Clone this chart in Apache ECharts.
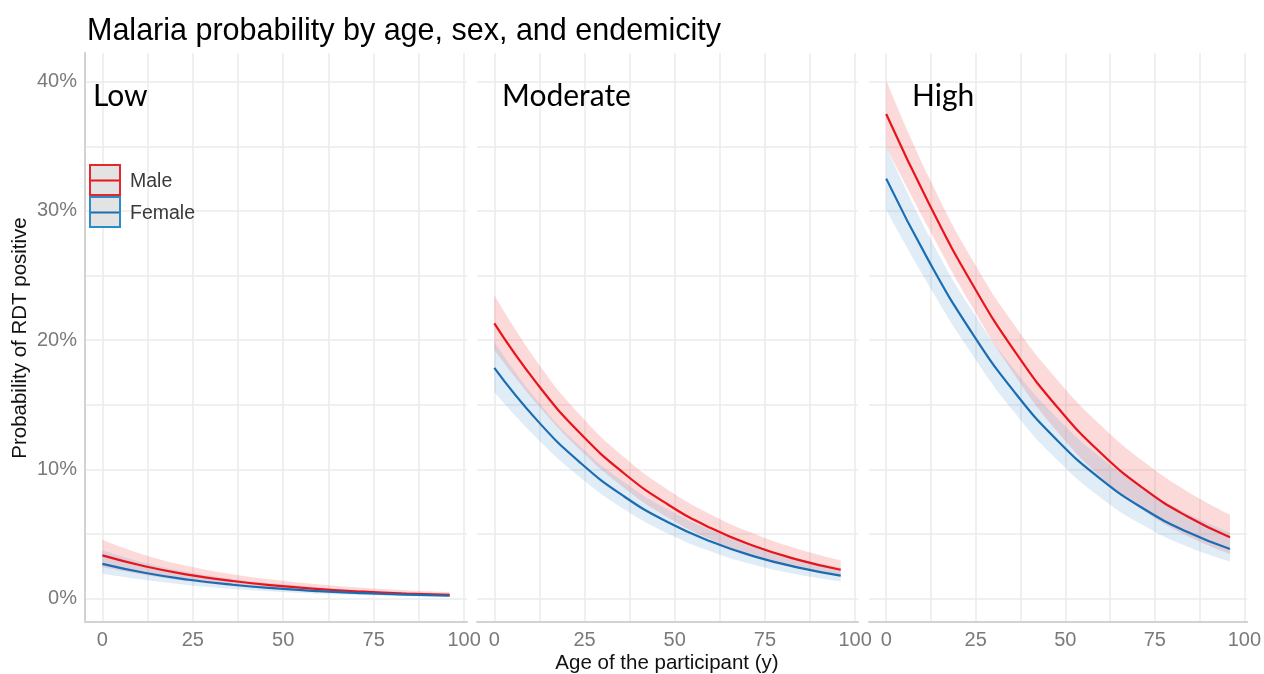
<!DOCTYPE html>
<html>
<head>
<meta charset="utf-8">
<script src="https://cdn.jsdelivr.net/npm/echarts@6/dist/echarts.min.js"></script>
<style>
html,body{margin:0;padding:0;background:#fff;}
#chart{width:1264px;height:674px;}
</style>
</head>
<body>
<div id="chart"></div>
<script>
// ---- data ----
const titleText = 'Malaria probability by age, sex, and endemicity';
const panels = ['Low', 'Moderate', 'High'];
const ages = [0, 12, 24, 36, 48, 60, 72, 84, 96];
const xTickLabels = [0, 25, 50, 75, 100];
const yTickLabels = [0, 10, 20, 30, 40];

const lowMale      = [3.35, 2.49, 1.85, 1.37, 1.01, 0.745, 0.550, 0.405, 0.299];
const lowMaleLo    = [2.46, 1.84, 1.36, 0.985, 0.706, 0.501, 0.353, 0.247, 0.173];
const lowMaleHi    = [4.56, 3.36, 2.51, 1.89, 1.44, 1.106, 0.855, 0.664, 0.517];
const lowFemale    = [2.70, 1.99, 1.47, 1.08, 0.794, 0.583, 0.428, 0.314, 0.230];
const lowFemaleLo  = [1.93, 1.44, 1.05, 0.762, 0.545, 0.387, 0.272, 0.191, 0.133];
const lowFemaleHi  = [3.76, 2.76, 2.04, 1.53, 1.154, 0.878, 0.672, 0.516, 0.398];

const modMale      = [21.30, 16.58, 12.74, 9.69, 7.31, 5.47, 4.08, 3.03, 2.24];
const modMaleLo    = [19.25, 15.02, 11.46, 8.57, 6.30, 4.58, 3.31, 2.37, 1.70];
const modMaleHi    = [23.50, 18.28, 14.15, 10.94, 8.45, 6.52, 5.02, 3.86, 2.96];
const modFemale    = [17.86, 13.76, 10.48, 7.91, 5.93, 4.42, 3.28, 2.43, 1.79];
const modFemaleLo  = [15.99, 12.36, 9.35, 6.93, 5.07, 3.66, 2.63, 1.88, 1.34];
const modFemaleHi  = [19.89, 15.29, 11.73, 9.01, 6.92, 5.32, 4.09, 3.14, 2.41];

const highMale     = [37.50, 30.54, 24.37, 19.10, 14.75, 11.25, 8.50, 6.38, 4.75];
const highMaleLo   = [34.95, 28.58, 22.58, 17.25, 12.86, 9.41, 6.80, 4.87, 3.46];
const highMaleHi   = [40.11, 32.57, 26.25, 21.10, 16.87, 13.41, 10.59, 8.32, 6.50];
const highFemale   = [32.50, 26.08, 20.55, 15.93, 12.19, 9.24, 6.94, 5.18, 3.85];
const highFemaleLo = [30.09, 24.20, 18.90, 14.35, 10.67, 7.80, 5.65, 4.05, 2.89];
const highFemaleHi = [35.00, 28.05, 22.29, 17.65, 13.91, 10.91, 8.51, 6.61, 5.12];

const panelData = [
  {male: lowMale, maleLo: lowMaleLo, maleHi: lowMaleHi, female: lowFemale, femaleLo: lowFemaleLo, femaleHi: lowFemaleHi},
  {male: modMale, maleLo: modMaleLo, maleHi: modMaleHi, female: modFemale, femaleLo: modFemaleLo, femaleHi: modFemaleHi},
  {male: highMale, maleLo: highMaleLo, maleHi: highMaleHi, female: highFemale, femaleLo: highFemaleLo, femaleHi: highFemaleHi}
];

// ---- styling ----
const RED = '#e8141c';
const BLUE = '#1a6db3';
const RED_BAND = 'rgba(245,70,70,0.2)';
const BLUE_BAND = 'rgba(70,150,205,0.17)';
const GRID_COLOR = '#ebebeb';
const AXIS_COLOR = '#d2d2d2';
const LABEL_COLOR = '#7a7a7a';
const FONT = '"Liberation Sans", Arial, sans-serif';

const grids = [
  {left: 85, top: 53, width: 382, height: 569},
  {left: 477, top: 53, width: 381, height: 569},
  {left: 869, top: 53, width: 382, height: 569}
];

const xMinor = [0, 12.5, 25, 37.5, 50, 62.5, 75, 87.5, 100];
const yMinor = [0, 5, 10, 15, 20, 25, 30, 35, 40];

const xAxes = grids.map((g, i) => ({
  gridIndex: i, type: 'value', min: -4.8, max: 100.8,
  axisLine: {show: true, onZero: false, lineStyle: {color: AXIS_COLOR, width: 2}},
  axisTick: {show: false, customValues: xMinor},
  axisLabel: {customValues: xTickLabels, color: LABEL_COLOR, fontSize: 20, fontFamily: FONT, margin: 8},
  splitLine: {show: true, lineStyle: {color: GRID_COLOR, width: 1.5}}
}));

const yAxes = grids.map((g, i) => ({
  gridIndex: i, type: 'value', min: -1.8, max: 42.22,
  axisLine: {show: i === 0, onZero: false, lineStyle: {color: AXIS_COLOR, width: 2}},
  axisTick: {show: false, customValues: yMinor},
  axisLabel: {show: i === 0, customValues: yTickLabels, formatter: '{value}%', color: LABEL_COLOR, fontSize: 20, fontFamily: FONT, margin: 8},
  splitLine: {show: true, lineStyle: {color: GRID_COLOR, width: 1.5}}
}));

// data rows are [value, age]; encode maps age to x so that stacking happens on y
function pts(arr) { return ages.map((a, i) => [arr[i], a]); }
function diffPts(lo, hi) { return ages.map((a, i) => [+(hi[i] - lo[i]).toFixed(4), a]); }
const ENC = {x: 1, y: 0};

const series = [];
panelData.forEach((d, i) => {
  const bands = [
    {lo: d.maleLo, hi: d.maleHi, color: RED_BAND, id: 'm' + i},
    {lo: d.femaleLo, hi: d.femaleHi, color: BLUE_BAND, id: 'f' + i}
  ];
  bands.forEach(b => {
    series.push({type: 'line', xAxisIndex: i, yAxisIndex: i, data: pts(b.lo), encode: ENC, stack: b.id,
      symbol: 'none', smooth: 0.5, silent: true, lineStyle: {opacity: 0}});
    series.push({type: 'line', xAxisIndex: i, yAxisIndex: i, data: diffPts(b.lo, b.hi), encode: ENC, stack: b.id,
      symbol: 'none', smooth: 0.5, silent: true, lineStyle: {opacity: 0},
      areaStyle: {color: b.color, opacity: 1}});
  });
  series.push({type: 'line', xAxisIndex: i, yAxisIndex: i, data: pts(d.male), encode: ENC, symbol: 'none', smooth: 0.5,
    lineStyle: {color: RED, width: 2.2}});
  series.push({type: 'line', xAxisIndex: i, yAxisIndex: i, data: pts(d.female), encode: ENC, symbol: 'none', smooth: 0.5,
    lineStyle: {color: BLUE, width: 2.2}});
});

const panelLabelX = [93, 502, 912];
const graphics = [];
panels.forEach((p, i) => {
  graphics.push({type: 'text', x: panelLabelX[i], y: 96, z: 100,
    style: {text: p, fill: '#000', font: '30px Lato, "Open Sans", sans-serif', align: 'left', verticalAlign: 'middle'}});
});
// legend
const legendItems = [
  {name: 'Male', border: '#e5262d', line: RED, y: 165},
  {name: 'Female', border: '#2b8cc8', line: BLUE, y: 197}
];
legendItems.forEach(it => {
  graphics.push({type: 'rect', z: 100, shape: {x: 90, y: it.y, width: 30, height: 30},
    style: {fill: '#e3e3e3', stroke: it.border, lineWidth: 2}});
  graphics.push({type: 'line', z: 101, shape: {x1: 91, y1: it.y + 15.5, x2: 119, y2: it.y + 15.5},
    style: {stroke: it.line, lineWidth: 2}});
  graphics.push({type: 'text', z: 101, x: 130, y: it.y + 17,
    style: {text: it.name, fill: '#3a3a3a', font: '19.5px ' + FONT, align: 'left', verticalAlign: 'middle'}});
});
// axis titles
graphics.push({type: 'text', x: 667, y: 663, z: 100,
  style: {text: 'Age of the participant (y)', fill: '#111', font: '20.5px ' + FONT, align: 'center', verticalAlign: 'middle'}});
graphics.push({type: 'text', x: 20, y: 338, rotation: Math.PI / 2, z: 100,
  style: {text: 'Probability of RDT positive', fill: '#111', font: '20.5px ' + FONT, align: 'center', verticalAlign: 'middle'}});

const chart = echarts.init(document.getElementById('chart'), null, {renderer: 'canvas'});
chart.setOption({
  animation: false,
  backgroundColor: '#fff',
  title: {text: titleText, left: 82, top: 11,
    textStyle: {fontSize: 30.5, fontWeight: 'normal', color: '#000', fontFamily: FONT}},
  grid: grids,
  xAxis: xAxes,
  yAxis: yAxes,
  series: series,
  graphic: graphics
});
</script>
</body>
</html>
